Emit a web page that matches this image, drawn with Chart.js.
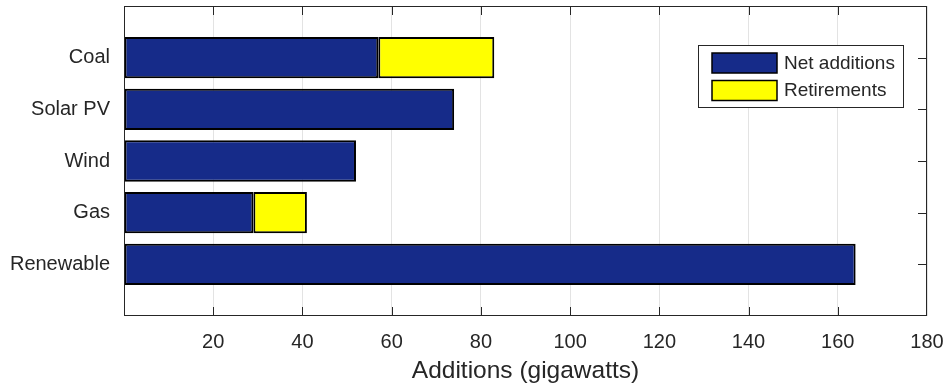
<!DOCTYPE html>
<html>
<head>
<meta charset="utf-8">
<script src="https://cdn.jsdelivr.net/npm/chart.js@4.4.1/dist/chart.umd.min.js"></script>
<style>
  html, body { margin: 0; padding: 0; background: #fff; }
  #wrap { width: 947px; height: 387px; }
</style>
</head>
<body>
<div id="wrap"><canvas id="chart" width="947" height="387"></canvas></div>
<script>
// data (gigawatts)
const categories = ['Coal', 'Solar PV', 'Wind', 'Gas', 'Renewable'];
const netAdditions = [57, 74, 52, 29, 164];
const retirements = [26, null, null, 12, null];
const seriesNames = ['Net additions', 'Retirements'];
const xMin = 0, xMax = 180, xStep = 20;

const navy = '#162b89';
const yellow = '#ffff00';
const axisColor = '#262626';
const fontFamily = '"Liberation Sans", Arial, Helvetica, sans-serif';

// bars sit on a linear index axis so there is a full slot of space above and below
function toPoints(values) {
  return values.map((v, i) => ({ x: v, y: i + 1 }));
}

// frame, inward ticks and boxed legend (MATLAB look)
const matlabAxes = {
  id: 'matlabAxes',
  afterDraw(chart) {
    const ctx = chart.ctx;
    const { left, right, top, bottom } = chart.chartArea;
    const xs = chart.scales.x, ys = chart.scales.y;
    const tl = 9;

    ctx.save();
    ctx.strokeStyle = axisColor;
    ctx.lineWidth = 1;
    ctx.strokeRect(left + 0.5, top + 0.5, right - left - 1, bottom - top - 1);

    ctx.beginPath();
    for (let v = xMin + xStep; v < xMax; v += xStep) {
      const px = Math.round(xs.getPixelForValue(v)) + 0.5;
      ctx.moveTo(px, top); ctx.lineTo(px, top + tl);
      ctx.moveTo(px, bottom); ctx.lineTo(px, bottom - tl);
    }
    // left ticks are hidden under the bars, only the right ones show
    categories.forEach((c, i) => {
      const py = Math.round(ys.getPixelForValue(i + 1)) + 0.5;
      ctx.moveTo(right, py); ctx.lineTo(right - tl, py);
    });
    ctx.stroke();

    // legend box
    const lx = 698.5, ly = 45.5, lw = 205, lh = 62;
    ctx.fillStyle = '#fff';
    ctx.fillRect(lx, ly, lw, lh);
    ctx.strokeStyle = axisColor;
    ctx.strokeRect(lx, ly, lw, lh);
    ctx.font = '19px ' + fontFamily;
    ctx.textBaseline = 'middle';
    chart.data.datasets.forEach((ds, i) => {
      const sy = 53 + i * 27.5;
      ctx.fillStyle = ds.backgroundColor;
      ctx.fillRect(712, sy, 65, 20);
      ctx.strokeStyle = '#000';
      ctx.lineWidth = 1.5;
      ctx.strokeRect(712, sy, 65, 20);
      ctx.fillStyle = axisColor;
      ctx.fillText(ds.label, 784, sy + 10.5);
    });
    ctx.restore();
  }
};

new Chart(document.getElementById('chart'), {
  type: 'bar',
  data: {
    datasets: [
      {
        label: seriesNames[0],
        data: toPoints(netAdditions),
        backgroundColor: navy,
        borderColor: '#000',
        borderWidth: 2,
        borderSkipped: false,
        barPercentage: 0.8,
        categoryPercentage: 1
      },
      {
        label: seriesNames[1],
        data: toPoints(retirements),
        backgroundColor: yellow,
        borderColor: '#000',
        borderWidth: 2,
        borderSkipped: false,
        barPercentage: 0.8,
        categoryPercentage: 1
      }
    ]
  },
  options: {
    indexAxis: 'y',
    responsive: false,
    animation: false,
    devicePixelRatio: 1,
    layout: { padding: { top: 6, right: 20, left: 0, bottom: 0 } },
    plugins: {
      legend: { display: false },
      tooltip: { enabled: false }
    },
    scales: {
      x: {
        type: 'linear',
        stacked: true,
        min: xMin,
        max: xMax,
        offset: false,
        border: { display: false },
        grid: { color: '#e3e3e3', lineWidth: 1, drawTicks: false, offset: false },
        ticks: {
          stepSize: xStep,
          padding: 14,
          color: axisColor,
          font: { family: fontFamily, size: 20 },
          callback: v => (v === xMin ? '' : v)
        },
        title: {
          display: true,
          text: 'Additions (gigawatts)',
          color: axisColor,
          font: { family: fontFamily, size: 24.5, lineHeight: 1.2 },
          padding: { top: 0, bottom: 1 }
        },
        afterFit: s => { s.height = 71; s.paddingLeft = 0; s.paddingRight = 0; }
      },
      y: {
        type: 'linear',
        stacked: true,
        reverse: true,
        min: 0,
        max: categories.length + 1,
        offset: false,
        border: { display: false },
        grid: { display: false, drawTicks: false, offset: false },
        ticks: {
          stepSize: 1,
          autoSkip: false,
          padding: 14,
          color: axisColor,
          font: { family: fontFamily, size: 20 },
          callback: v => categories[v - 1] || ''
        },
        afterFit: s => { s.width = 124; s.paddingTop = 0; s.paddingBottom = 0; }
      }
    }
  },
  plugins: [matlabAxes]
});
</script>
</body>
</html>
